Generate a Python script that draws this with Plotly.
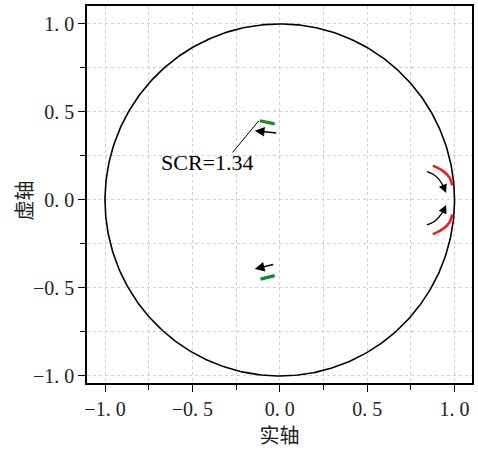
import numpy as np
import plotly.graph_objects as go

# Unit circle parameter
theta = np.linspace(0, 2 * np.pi, 361)

# Green eigenvalue loci (upper / lower)
green_up_x = [-0.114, -0.07, -0.029]
green_up_y = [0.450, 0.442, 0.432]
green_dn_x = [-0.110, -0.07, -0.029]
green_dn_y = [-0.450, -0.440, -0.430]

# Red eigenvalue loci (upper / lower)
red_up_x = [0.876, 0.933, 0.971, 0.987]
red_up_y = [0.195, 0.165, 0.128, 0.082]
red_dn_x = [0.876, 0.933, 0.971, 0.987]
red_dn_y = [-0.195, -0.165, -0.128, -0.082]

# Curved black arrows near the red loci (tail -> head)
carrow_up_x = [0.842, 0.880, 0.910, 0.935, 0.952]
carrow_up_y = [0.161, 0.145, 0.118, 0.080, 0.040]
carrow_dn_x = [0.842, 0.880, 0.910, 0.935, 0.952]
carrow_dn_y = [-0.142, -0.125, -0.098, -0.065, -0.028]

# Straight arrows near green loci: (tail_x, tail_y, head_x, head_y)
arrow_up = (-0.011, 0.380, -0.143, 0.393)
arrow_dn = (-0.029, -0.365, -0.143, -0.392)

# Leader line for annotation
leader_x = [-0.27, -0.12]
leader_y = [0.27, 0.45]
label_text = "SCR=1.34"
label_pos = (-0.415, 0.215)

tick_vals = [-1.0, -0.5, 0.0, 0.5, 1.0]
tick_text = ["\u22121. 0", "\u22120. 5", "0. 0", "0. 5", "1. 0"]

fig = go.Figure()
fig.add_trace(go.Scatter(x=np.cos(theta), y=np.sin(theta), mode="lines",
                         line=dict(color="black", width=1.6), hoverinfo="skip"))
for gx, gy in [(green_up_x, green_up_y), (green_dn_x, green_dn_y)]:
    fig.add_trace(go.Scatter(x=gx, y=gy, mode="lines",
                             line=dict(color="#1a8a2e", width=3.2)))
for rx, ry in [(red_up_x, red_up_y), (red_dn_x, red_dn_y)]:
    fig.add_trace(go.Scatter(x=rx, y=ry, mode="lines", line_shape="spline",
                             line=dict(color="#ee1c1c", width=2.6)))
for cx, cy in [(carrow_up_x, carrow_up_y), (carrow_dn_x, carrow_dn_y)]:
    fig.add_trace(go.Scatter(x=cx[:-1], y=cy[:-1], mode="lines", line_shape="spline",
                             line=dict(color="black", width=1.3)))
    fig.add_annotation(x=cx[-1], y=cy[-1], ax=cx[-2], ay=cy[-2],
                       xref="x", yref="y", axref="x", ayref="y",
                       showarrow=True, arrowhead=2, arrowsize=1.3, arrowwidth=1.3,
                       arrowcolor="black", text="")
fig.add_trace(go.Scatter(x=leader_x, y=leader_y, mode="lines",
                         line=dict(color="black", width=1)))
for tx, ty, hx, hy in [arrow_up, arrow_dn]:
    fig.add_annotation(x=hx, y=hy, ax=tx, ay=ty,
                       xref="x", yref="y", axref="x", ayref="y",
                       showarrow=True, arrowhead=2, arrowsize=1.3, arrowwidth=1.5,
                       arrowcolor="black", text="")
fig.add_annotation(x=label_pos[0], y=label_pos[1], text=label_text, showarrow=False,
                   font=dict(family="Liberation Serif", size=22, color="black"))

# Y-axis title placed as an annotation to sit close to the tick labels
fig.add_annotation(x=-0.165, y=0.0, xref="paper", yref="y", text="虚轴",
                   textangle=-90, showarrow=False, xanchor="center", yanchor="middle",
                   font=dict(family="Noto Sans CJK SC", size=20, color="#222"))

axis_common = dict(
    showline=True, linecolor="black", linewidth=1.5, mirror=True,
    ticks="outside", ticklen=7, tickwidth=1.3, tickcolor="black",
    tickvals=tick_vals, ticktext=tick_text,
    tickfont=dict(family="Liberation Serif", size=20, color="#222"),
    showgrid=True, gridcolor="#cfcfcf", griddash="3px,3px", gridwidth=1,
    zeroline=False,
    minor=dict(dtick=0.25, tick0=0, ticks="outside", ticklen=5, tickwidth=1.2,
               tickcolor="black", showgrid=True, gridcolor="#cfcfcf",
               griddash="3px,3px", gridwidth=1),
)
fig.update_xaxes(range=[-1.103, 1.10], **axis_common,
                 title=dict(text="实轴", standoff=4,
                            font=dict(family="Noto Sans CJK SC", size=20, color="#222")))
fig.update_yaxes(range=[-1.04, 1.102], **axis_common)
fig.update_layout(width=478, height=452, showlegend=False,
                  margin=dict(l=87, r=4, t=6, b=69),
                  plot_bgcolor="white", paper_bgcolor="white")
fig.write_html("out.html")
